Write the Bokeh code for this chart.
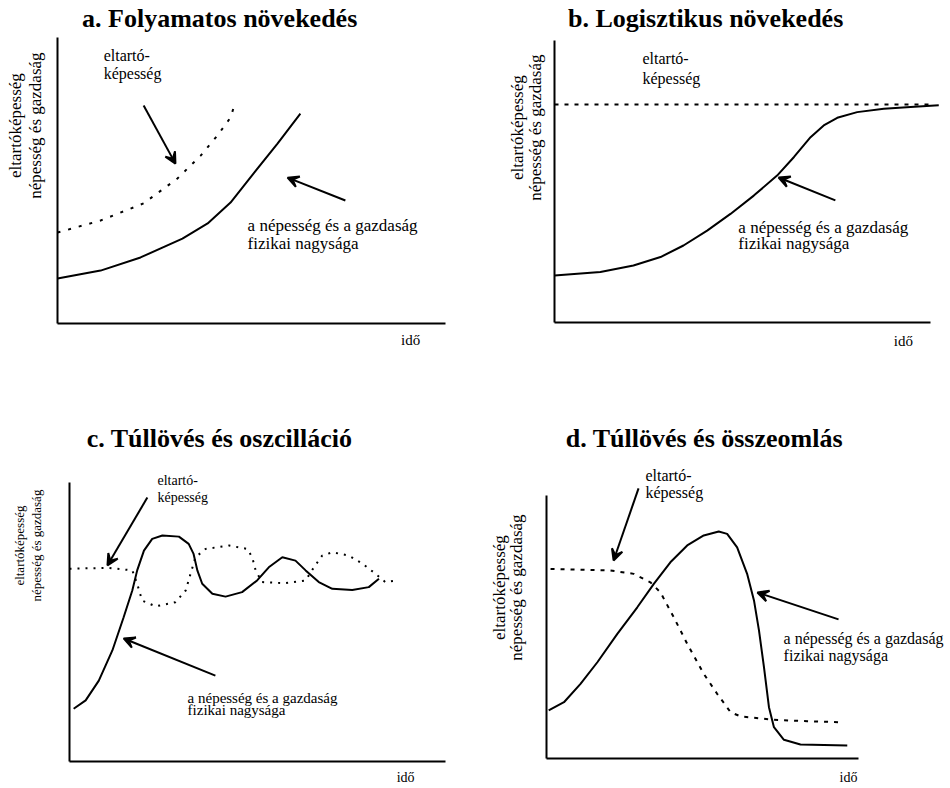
import math
from bokeh.plotting import figure
from bokeh.models import Range1d, FixedTicker, Label, Arrow, VeeHead, LinearAxis
from bokeh.layouts import column, row
from bokeh.embed import file_html
from bokeh.resources import INLINE

# ---------------- data (panel units: axis box = 0..10 x 0..10) ----------------
# a. continuous growth
a_pop_x = [0, 1.11, 2.14, 3.22, 3.87, 4.46, 5.05, 5.67, 6.26]
a_pop_y = [1.57, 1.85, 2.31, 2.97, 3.50, 4.23, 5.24, 6.29, 7.34]
a_cap_x = [0, 1.11, 2.22, 3.09, 3.69, 4.12, 4.46, 4.54]
a_cap_y = [3.18, 3.60, 4.20, 5.07, 5.87, 6.57, 7.20, 7.55]

# b. logistic growth
b_pop_x = [0, 1.22, 2.10, 2.82, 3.43, 4.06, 4.68, 5.30, 5.92, 6.37, 6.81, 7.16, 7.52,
           8.05, 8.76, 9.47, 10.22]
b_pop_y = [1.67, 1.79, 2.02, 2.32, 2.73, 3.26, 3.85, 4.50, 5.21, 5.87, 6.57, 6.99, 7.26,
           7.46, 7.58, 7.64, 7.70]
b_cap_x = [0, 10]
b_cap_y = [7.73, 7.73]

# c. overshoot and oscillation
c_pop_x = [0.11, 0.43, 0.78, 1.14, 1.44, 1.67, 1.80, 1.98, 2.20, 2.47, 2.91, 3.17, 3.30,
           3.40, 3.53, 3.80, 4.15, 4.59, 4.99, 5.30, 5.66, 6.01, 6.28, 6.63, 6.99, 7.52,
           7.96, 8.23]
c_pop_y = [1.89, 2.19, 2.90, 3.98, 5.17, 6.13, 6.85, 7.56, 7.98, 8.10, 8.06, 7.80, 7.44,
           6.85, 6.37, 6.01, 5.91, 6.07, 6.49, 6.96, 7.32, 7.20, 6.85, 6.43, 6.19, 6.15,
           6.25, 6.55]
c_cap_x = [0, 1.05, 1.67, 1.80, 1.93, 2.29, 2.82, 3.09, 3.22, 3.35, 3.62, 4.24, 4.73,
           4.86, 4.95, 5.12, 5.74, 6.28, 6.50, 6.72, 6.99, 7.43, 7.79, 8.14, 8.40, 8.71]
c_cap_y = [6.91, 6.94, 6.85, 6.37, 5.77, 5.56, 5.71, 6.13, 6.73, 7.32, 7.62, 7.74, 7.62,
           7.32, 6.85, 6.43, 6.39, 6.49, 6.96, 7.38, 7.50, 7.38, 7.09, 6.73, 6.43, 6.49]

# d. overshoot and collapse
d_pop_x = [0.07, 0.56, 1.09, 1.63, 2.27, 2.91, 3.44, 3.97, 4.51, 5.04, 5.52, 5.79, 6.11,
           6.43, 6.65, 6.81, 6.97, 7.13, 7.29, 7.61, 8.14, 9.64]
d_pop_y = [1.83, 2.14, 2.84, 3.66, 4.74, 5.75, 6.64, 7.46, 8.10, 8.48, 8.63, 8.54, 8.03,
           7.02, 6.01, 4.87, 3.47, 1.95, 1.19, 0.71, 0.53, 0.49]
d_cap_x = [0.13, 2.05, 2.80, 3.33, 3.65, 4.08, 4.51, 5.04, 5.47, 5.90, 6.22, 7.29, 8.36, 9.37]
d_cap_y = [7.21, 7.15, 7.02, 6.70, 6.32, 5.37, 4.36, 3.22, 2.46, 1.76, 1.60, 1.47, 1.42, 1.38]

titles = ["a. Folyamatos növekedés", "b. Logisztikus növekedés",
          "c. Túllövés és oszcilláció", "d. Túllövés és összeomlás"]
y_label_lines = ["eltartóképesség", "népesség és gazdaság"]
x_label = "idő"
cap_lines = ["eltartó-", "képesség"]
pop_lines = ["a népesség és a gazdaság", "fizikai nagysága"]

SERIF = "Liberation Serif"


def make_panel(fx, fy, w, h, bl, bt, br, bb):
    """Figure occupying page rect (fx, fy, w, h); its axis box at page pixels
    (bl, bt)-(br, bb) spans 0..10 in both directions."""
    ux = (br - bl) / 10.0
    uy = (bb - bt) / 10.0
    xr = Range1d((fx - bl) / ux, (fx + w - bl) / ux)
    yr = Range1d((bb - (fy + h)) / uy, (bb - fy) / uy)
    p = figure(width=w, height=h, x_range=xr, y_range=yr,
               toolbar_location=None, output_backend="svg",
               x_axis_location=None, y_axis_location=None,
               min_border=0)
    p.xgrid.visible = False
    p.ygrid.visible = False
    p.outline_line_color = None
    p.background_fill_color = "white"
    p.border_fill_color = "white"
    for side in ("left", "below"):
        ax = LinearAxis(fixed_location=0, bounds=(0, 10), ticker=FixedTicker(ticks=[]),
                        major_tick_line_color=None, minor_tick_line_color=None,
                        major_label_text_font_size="0px",
                        axis_line_width=2, axis_line_color="black")
        p.add_layout(ax, side)
    return p


def txt(p, x, y, s, size="16px", align="left", angle=0.0, bold=False):
    p.add_layout(Label(x=x, y=y, text=s, text_font=SERIF, text_font_size=size,
                       text_align=align, text_baseline="middle", angle=angle,
                       text_font_style="bold" if bold else "normal",
                       text_color="black"))


def arrow(p, xs, ys, xe, ye):
    p.add_layout(Arrow(end=VeeHead(size=11, line_width=2, line_color="black"),
                       x_start=xs, y_start=ys, x_end=xe, y_end=ye,
                       line_width=2, line_color="black"))


def decorate(p, title, tx, ty, ix, iy, yx1, yx2, yy, ysize="17px", tsize="26px",
             isize="15px"):
    txt(p, tx, ty, title, size=tsize, align="center", bold=True)
    txt(p, ix, iy, x_label, size=isize, align="center")
    txt(p, yx1, yy, y_label_lines[0], size=ysize, align="center", angle=math.pi / 2)
    txt(p, yx2, yy, y_label_lines[1], size=ysize, align="center", angle=math.pi / 2)


# ---------------- panel a ----------------
pa = make_panel(0, 0, 475, 400, 57, 37, 445, 323)
pa.line(a_pop_x, a_pop_y, line_width=2, line_color="black")
pa.line(a_cap_x, a_cap_y, line_width=2, line_color="black", line_dash="3 8")
decorate(pa, titles[0], 4.18, 10.66, 9.10, -0.59, -1.08, -0.57, 6.92)
txt(pa, 1.19, 9.37, cap_lines[0])
txt(pa, 1.19, 8.74, cap_lines[1])
txt(pa, 4.90, 3.43, pop_lines[0], size="17px")
txt(pa, 4.90, 2.80, pop_lines[1], size="17px")
arrow(pa, 2.22, 7.62, 3.04, 5.59)
arrow(pa, 7.42, 4.30, 5.93, 5.10)

# ---------------- panel b ----------------
pb = make_panel(475, 0, 473, 400, 554, 40, 930, 322)
pb.line(b_pop_x, b_pop_y, line_width=2, line_color="black")
pb.line(b_cap_x, b_cap_y, line_width=2, line_color="black", line_dash="4 6")
decorate(pb, titles[1], 4.02, 10.78, 9.28, -0.64, -0.98, -0.50, 6.91)
txt(pb, 2.34, 9.36, cap_lines[0])
txt(pb, 2.34, 8.65, cap_lines[1])
txt(pb, 4.89, 3.37, pop_lines[0], size="17px")
txt(pb, 4.89, 2.80, pop_lines[1], size="17px")
arrow(pb, 7.47, 4.33, 5.96, 5.14)

# ---------------- panel c ----------------
pc = make_panel(0, 400, 475, 386, 69, 482, 445, 761)
pc.line(c_pop_x, c_pop_y, line_width=2, line_color="black")
pc.line(c_cap_x, c_cap_y, line_width=2, line_color="black", line_dash="2 6")
decorate(pc, titles[2], 3.99, 11.58, 8.94, -0.57, -1.33, -0.88, 7.74, ysize="13px",
         isize="14px")
txt(pc, 2.34, 10.07, cap_lines[0], size="14px")
txt(pc, 2.34, 9.46, cap_lines[1], size="14px")
txt(pc, 3.14, 2.29, pop_lines[0], size="15px")
txt(pc, 3.14, 1.83, pop_lines[1], size="15px")
arrow(pc, 2.07, 9.46, 1.01, 7.03)
arrow(pc, 3.88, 3.08, 1.44, 4.41)

# ---------------- panel d ----------------
pd_ = make_panel(475, 400, 473, 386, 546, 495, 858, 758)
pd_.line(d_pop_x, d_pop_y, line_width=2, line_color="black")
pd_.line(d_cap_x, d_cap_y, line_width=2, line_color="black", line_dash="4 6")
decorate(pd_, titles[3], 5.06, 12.17, 9.68, -0.72, -1.51, -0.96, 6.50, isize="14px")
txt(pd_, 3.17, 10.76, cap_lines[0])
txt(pd_, 3.17, 10.11, cap_lines[1])
txt(pd_, 7.60, 4.56, pop_lines[0])
txt(pd_, 7.60, 3.92, pop_lines[1])
arrow(pd_, 2.95, 10.27, 2.15, 7.53)
arrow(pd_, 9.36, 5.29, 6.76, 6.31)

layout = column(row(pa, pb), row(pc, pd_))

open("out.html", "w").write(file_html(layout, INLINE))
